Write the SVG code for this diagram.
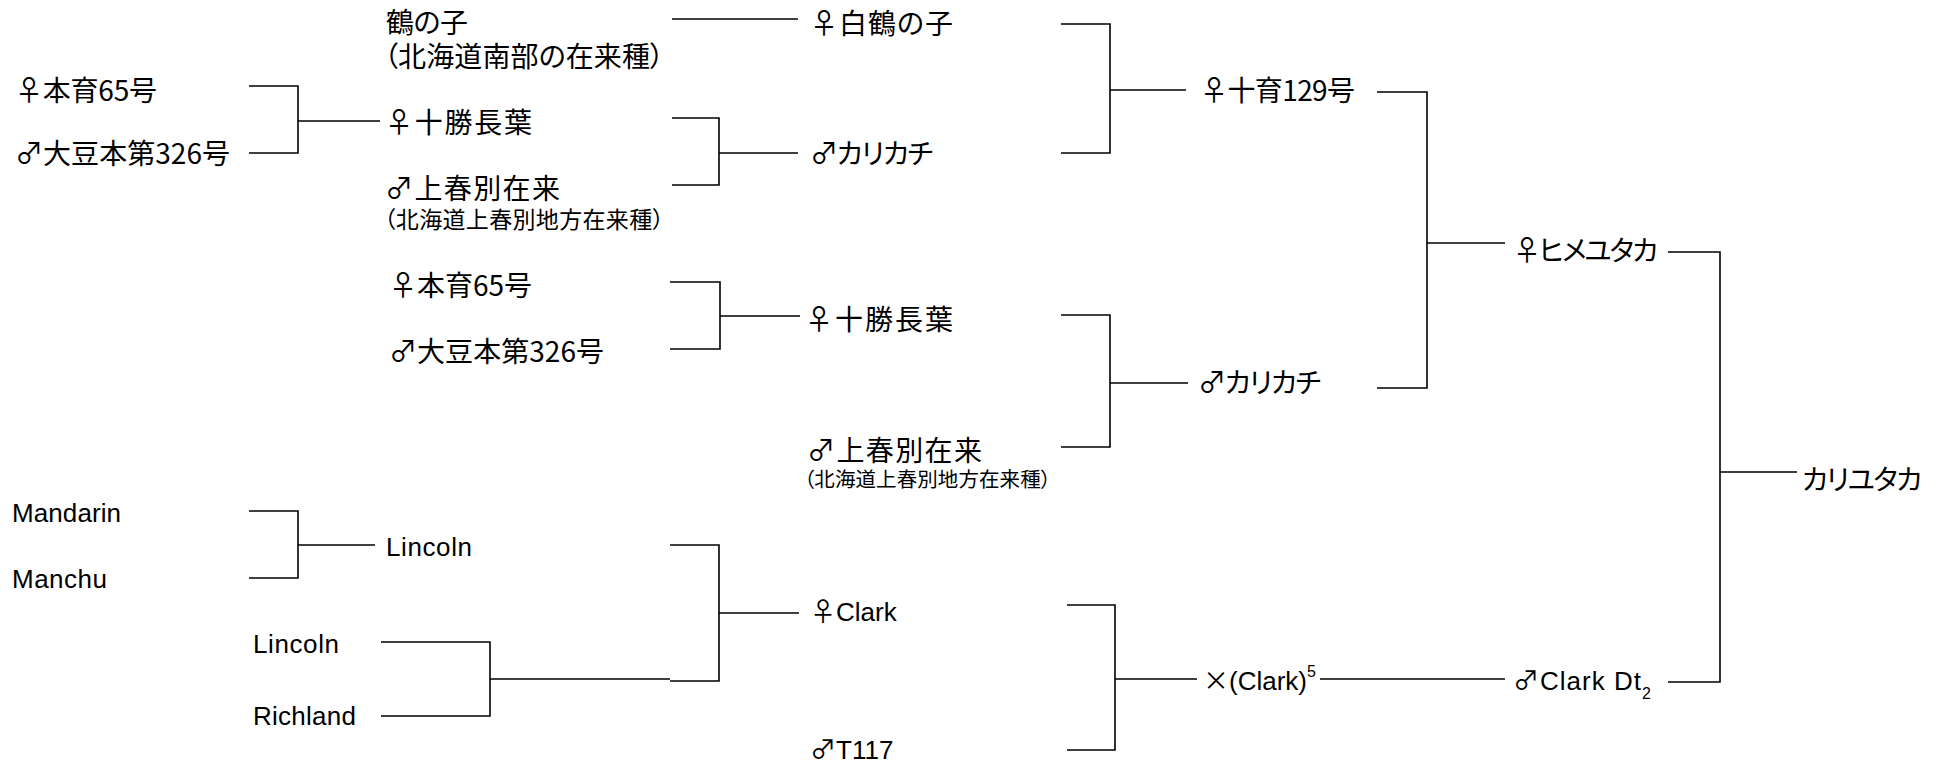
<svg xmlns="http://www.w3.org/2000/svg" width="1950" height="768" viewBox="0 0 1950 768">
<style>
.jp{font-family:"Noto Sans CJK JP","Noto Sans CJK SC",sans-serif;font-size:28px;fill:#000;font-feature-settings:"palt";}
.jps{font-family:"Noto Sans CJK JP",sans-serif;font-size:23px;fill:#000;font-feature-settings:"palt";}
.jpx{font-family:"Noto Sans CJK JP",sans-serif;font-size:20.5px;fill:#000;font-feature-settings:"palt";}
.lat{font-family:"Liberation Sans",Arial,sans-serif;font-size:26px;fill:#000;}
.sym{font-family:"Noto Sans CJK JP",sans-serif;}
.sup{font-family:"Liberation Sans",Arial,sans-serif;font-size:16px;fill:#000;}
.ln{fill:none;stroke:#000;stroke-width:1.6;}
</style>
<rect width="1950" height="768" fill="#fff"/>
<g id="connectors" class="ln">
<path d="M249 86H298V153H249M298 121H380"/>
<path d="M672 19H798"/>
<path d="M672 118H719V185H672M719 153H798"/>
<path d="M1061 24H1110V153H1061M1110 90H1186"/>
<path d="M1377 92H1427V388H1377M1427 243H1505"/>
<path d="M1668 252H1720V682H1668M1720 472H1797"/>
<path d="M670 282H720V349H670M720 316H800"/>
<path d="M1061 315H1110V447H1061M1110 383H1188"/>
<path d="M249 511H298V578H249M298 545H375"/>
<path d="M381 642H490V716H381M490 679H670"/>
<path d="M670 545H719V681H670M719 613H799"/>
<path d="M1067 605H1115V750H1067M1115 679H1197"/>
<path d="M1320 679H1505"/>
</g>
<g id="n_honiku65_a"><text class="jp" x="15" y="101" textLength="142">♀本育65号</text></g>
<g id="n_daizu326_a"><text class="jp" x="15" y="164" textLength="215">♂大豆本第326号</text></g>
<g id="n_tsurunoko"><text class="jp" x="386" y="33" textLength="82">鶴の子</text><text class="jp" x="384" y="67" textLength="280">（北海道南部の在来種）</text></g>
<g id="n_tokachi_a"><text class="jp" x="385" y="133" textLength="147">♀十勝長葉</text></g>
<g id="n_kamishunbetsu_a"><text class="jp" x="385" y="199" textLength="175">♂上春別在来</text><text class="jps" x="384" y="228" textLength="280">（北海道上春別地方在来種）</text></g>
<g id="n_shiratsuru"><text class="jp" x="810" y="34" textLength="143">♀白鶴の子</text></g>
<g id="n_karikachi_a"><text class="jp" x="810" y="164" textLength="123">♂カリカチ</text></g>
<g id="n_toiku129"><text class="jp" x="1200" y="101" textLength="155">♀十育129号</text></g>
<g id="n_himeyutaka"><text class="jp" x="1513" y="261" textLength="145">♀ヒメユタカ</text></g>
<g id="n_kariyutaka"><text class="jp" x="1802" y="490" textLength="120">カリユタカ</text></g>
<g id="n_honiku65_b"><text class="jp" x="389" y="296" textLength="143">♀本育65号</text></g>
<g id="n_daizu326_b"><text class="jp" x="389" y="362" textLength="215">♂大豆本第326号</text></g>
<g id="n_tokachi_b"><text class="jp" x="805" y="330" textLength="148">♀十勝長葉</text></g>
<g id="n_kamishunbetsu_b"><text class="jp" x="807" y="461" textLength="175">♂上春別在来</text><text class="jpx" x="804" y="487" textLength="247">（北海道上春別地方在来種）</text></g>
<g id="n_karikachi_b"><text class="jp" x="1198" y="393" textLength="123">♂カリカチ</text></g>
<g id="n_mandarin"><text class="lat" x="12" y="522" textLength="109">Mandarin</text></g>
<g id="n_manchu"><text class="lat" x="12" y="588" textLength="95">Manchu</text></g>
<g id="n_lincoln_a"><text class="lat" x="386" y="556" textLength="86">Lincoln</text></g>
<g id="n_lincoln_b"><text class="lat" x="253" y="653" textLength="86">Lincoln</text></g>
<g id="n_richland"><text class="lat" x="253" y="725" textLength="103">Richland</text></g>
<g id="n_clark"><text class="lat" x="810" y="621"><tspan class="sym">♀</tspan>Clark</text></g>
<g id="n_t117"><text class="lat" x="810" y="759"><tspan class="sym">♂</tspan>T117</text></g>
<g id="n_clark5"><text class="lat" x="1203" y="690"><tspan class="sym">×</tspan>(Clark)</text><text class="sup" x="1307" y="677">5</text></g>
<g id="n_clarkdt2"><text class="lat" x="1513" y="690" textLength="128"><tspan class="sym">♂</tspan>Clark Dt</text><text class="sup" x="1642" y="699">2</text></g>
</svg>
